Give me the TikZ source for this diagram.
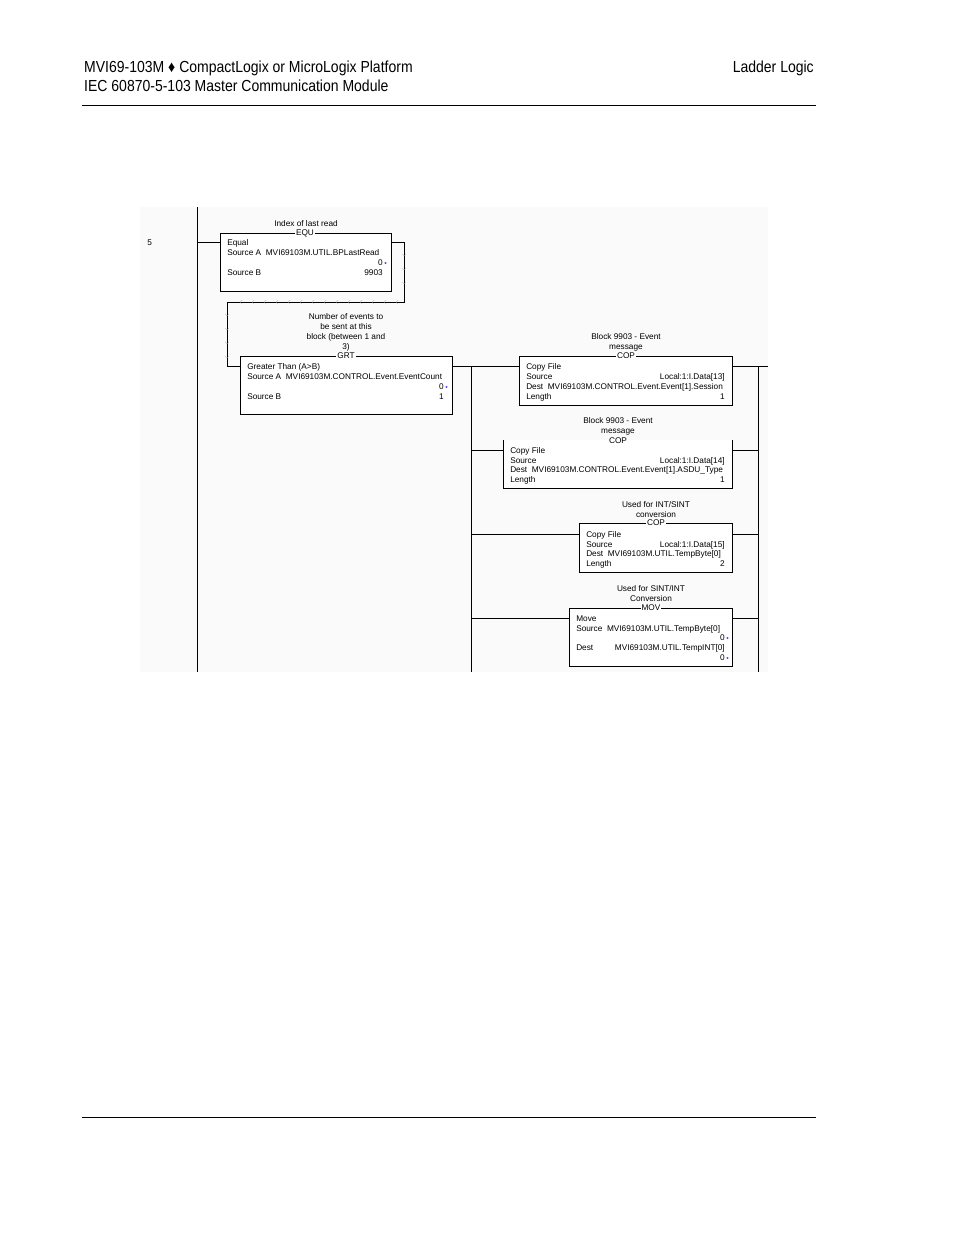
\documentclass[tikz,border=0pt]{standalone}
\usepackage{fontspec}
\setmainfont{Liberation Sans}
\usetikzlibrary{positioning,calc}

\tikzset{
  lbl/.style={font=\fontsize{6.2}{7}\selectfont, inner sep=0pt, anchor=base west},
  rlbl/.style={lbl, anchor=base east},
  clbl/.style={font=\fontsize{6.2}{7.4}\selectfont, inner sep=0pt, align=center, anchor=south},
  instr/.style={draw, line width=0.5pt, fill=white, anchor=north west, inner sep=0pt},
  tag/.style={font=\fontsize{6.2}{7}\selectfont, fill=white, inner sep=0.8pt},
  wire/.style={line width=0.5pt},
  tick/.style={line width=0.25pt, gray!70},
  head/.style={inner sep=0pt, font=\fontsize{12}{14}\selectfont, xscale=0.875}
}
\newcommand{\bdot}[1]{\fill[blue!70] (#1) ++(2.5,-2) circle (1.1);}

\begin{document}
\begin{tikzpicture}[x=0.75pt,y=-0.75pt]
\useasboundingbox (0,0) rectangle (954,1235);
% page header
\node[head, anchor=base west] (hd1) at (84,72) {MVI69-103M ♦ CompactLogix or MicroLogix Platform};
\node[head, anchor=base west] (hd2) at (84,91) {IEC 60870-5-103 Master Communication Module};
\node[head, anchor=base east] (hd3) at (814,72) {Ladder Logic};
\draw[line width=0.6pt] (82,105) -- (816,105);
\draw[line width=0.6pt] (82,1117) -- (816,1117);

% ladder background
\fill[gray!4] (140,207) rectangle (768,672);

% rails
\draw[wire] (197,207) -- (197,672);
\node[lbl] (rung) at (147,245) {5};
\draw[wire] (471,366) -- (471,672);
\draw[wire] (758,366) -- (758,672);

% EQU
\node[instr, minimum width=128.25pt, minimum height=43.5pt] (equ) at (220,233) {};
\node[clbl] (equc) at (306,227) {Index of last read};
\node[tag] (equt) at (305,233) {EQU};
\node[lbl] at (227,245) {Equal};
\node[lbl] at (227,255) {Source A\ \ MVI69103M.UTIL.BPLastRead};
\node[rlbl] (equa) at (383,265) {0};
\bdot{equa.base east}
\node[lbl] at (227,275) {Source B};
\node[rlbl] at (383,275) {9903};

% GRT
\node[instr, minimum width=159pt, minimum height=43.5pt] (grt) at (240,356) {};
\node[clbl] (grtc) at (346,351) {Number of events to\\be sent at this\\block (between 1 and\\3)};
\node[tag] (grtt) at (346,356) {GRT};
\node[lbl] at (247,369) {Greater Than (A>B)};
\node[lbl] at (247,379) {Source A\ \ MVI69103M.CONTROL.Event.EventCount};
\node[rlbl] (grta) at (444,389) {0};
\bdot{grta.base east}
\node[lbl] at (247,399) {Source B};
\node[rlbl] at (444,399) {1};

% wrap-around wire
\coordinate (w1) at (404,242);
\coordinate (w2) at (404,302);
\coordinate (w3) at (227,302);
\coordinate (w4) at (227,366);
\draw[wire] (197,242) -- (equ.west |- 0,242);
\draw[wire] (equ.east |- 0,242) -- (w1) -- (w2) -- (w3) -- (w4) -- (grt.west |- w4);
\foreach \y in {254,268,282} \draw[tick] (402,\y) -- (404,\y+2) -- (406,\y);
\foreach \x in {240,252,...,396} \draw[tick] (\x+2,300) -- (\x,302) -- (\x+2,304);
\foreach \y in {314,328,342,356} \draw[tick] (225,\y) -- (227,\y+2) -- (229,\y);

% COP 1
\node[instr, minimum width=159.75pt, minimum height=36.75pt] (cop1) at (519,356) {};
\node[clbl] (cop1c) at (626,351) {Block 9903 - Event\\message};
\node[tag] (cop1t) at (626,356) {COP};
\node[lbl] at (526,369) {Copy File};
\node[lbl] at (526,379) {Source};
\node[rlbl] at (725,379) {Local:1:I.Data[13]};
\node[lbl] at (526,389) {Dest\ \ MVI69103M.CONTROL.Event.Event[1].Session};
\node[lbl] at (526,399) {Length};
\node[rlbl] at (725,399) {1};
\draw[wire] (grt.east |- 0,366) -- (cop1.west |- 0,366);
\draw[wire] (cop1.east |- 0,366) -- (768,366);

% COP 2 (top edge hidden)
\node[anchor=north west, inner sep=0pt, minimum width=171.75pt, minimum height=36pt] (cop2) at (503,440) {};
\fill[white] (cop2.north west) rectangle (cop2.south east);
\draw[wire] (cop2.north west) -- (cop2.south west) -- (cop2.south east) -- (cop2.north east);
\node[clbl] (cop2c) at (618,435) {Block 9903 - Event\\message};
\node[clbl, anchor=base] (cop2t) at (618,443) {COP};
\node[lbl] at (510,453) {Copy File};
\node[lbl] at (510,463) {Source};
\node[rlbl] at (725,463) {Local:1:I.Data[14]};
\node[lbl] at (510,472) {Dest\ \ MVI69103M.CONTROL.Event.Event[1].ASDU\_Type};
\node[lbl] at (510,482) {Length};
\node[rlbl] at (725,482) {1};
\draw[wire] (471,450) -- (cop2.west |- 0,450);
\draw[wire] (cop2.east |- 0,450) -- (758,450);

% COP 3
\node[instr, minimum width=114.75pt, minimum height=36.75pt] (cop3) at (579,523) {};
\node[clbl] (cop3c) at (656,518) {Used for INT/SINT\\conversion};
\node[tag] (cop3t) at (656,523) {COP};
\node[lbl] at (586,537) {Copy File};
\node[lbl] at (586,547) {Source};
\node[rlbl] at (725,547) {Local:1:I.Data[15]};
\node[lbl] at (586,556) {Dest\ \ MVI69103M.UTIL.TempByte[0]};
\node[lbl] at (586,566) {Length};
\node[rlbl] at (725,566) {2};
\draw[wire] (471,534) -- (cop3.west |- 0,534);
\draw[wire] (cop3.east |- 0,534) -- (758,534);

% MOV
\node[instr, minimum width=122.25pt, minimum height=43.5pt] (mov) at (569,608) {};
\node[clbl] (movc) at (651,602) {Used for SINT/INT\\Conversion};
\node[tag] (movt) at (651,608) {MOV};
\node[lbl] at (576,621) {Move};
\node[lbl] at (576,631) {Source\ \ MVI69103M.UTIL.TempByte[0]};
\node[rlbl] (mova) at (725,640) {0};
\bdot{mova.base east}
\node[lbl] at (576,650) {Dest};
\node[rlbl] at (725,650) {MVI69103M.UTIL.TempINT[0]};
\node[rlbl] (movb) at (725,660) {0};
\bdot{movb.base east}
\draw[wire] (471,618) -- (mov.west |- 0,618);
\draw[wire] (mov.east |- 0,618) -- (758,618);
\end{tikzpicture}
\end{document}
